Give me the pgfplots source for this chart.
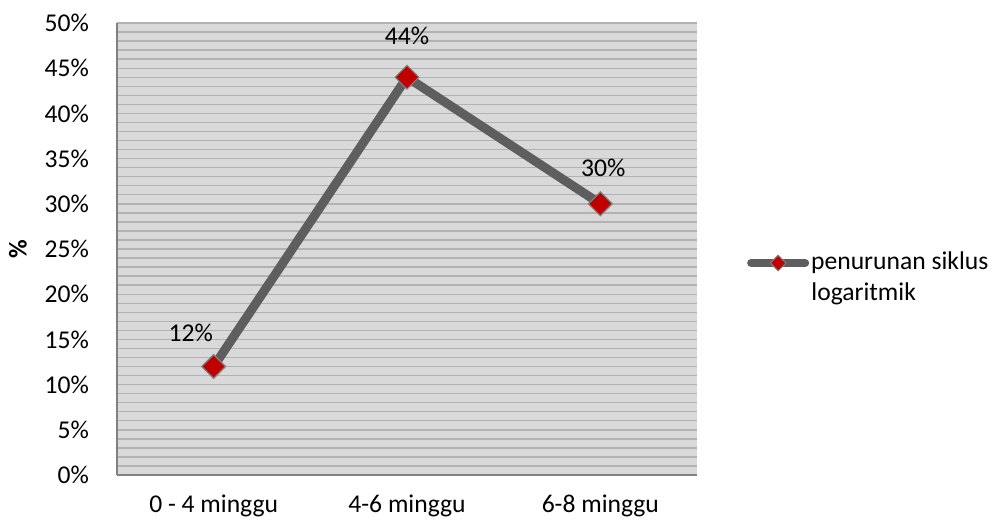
\documentclass[border=0pt]{standalone}
\usepackage{pgfplots}
\pgfplotsset{compat=1.18}
\usetikzlibrary{shapes.geometric}
\usepackage{fontspec}
\setmainfont{Carlito}
\definecolor{bgc}{HTML}{D9D9D9}
\definecolor{gridc}{HTML}{B2B2B2}
\definecolor{axc}{HTML}{808080}
\definecolor{linec}{HTML}{5E5E5E}
\definecolor{mkc}{HTML}{C00000}
\begin{document}
\fontsize{12.8pt}{15pt}\selectfont
\begin{tikzpicture}[x=1pt,y=1pt]
\path[use as bounding box] (0,0) rectangle (500.5,260.5);
\begin{axis}[
  at={(58.5pt,23pt)}, anchor=south west,
  width=290pt, height=226pt, scale only axis,
  xmin=-0.5, xmax=2.5, ymin=0, ymax=50,
  xtick={0,1,2},
  xticklabels={0 - 4 minggu, 4-6 minggu, 6-8 minggu},
  ytick={0,5,...,50},
  /pgf/number format/assume math mode=true,
  yticklabel={\pgfmathprintnumber{\tick}\%},
  minor y tick num=4,
  ymajorgrids, yminorgrids,
  major grid style={color=gridc, line width=0.7pt},
  minor grid style={color=gridc, line width=0.7pt},
  axis background/.style={fill=bgc},
  axis x line=bottom, axis y line=left,
  axis line style={-, color=axc, line width=1pt},
  tick style={draw=none},
  ticklabel style={font=\fontsize{12.8pt}{15pt}\selectfont},
  yticklabel style={xshift=-7.5pt},
  xticklabel style={yshift=-3.5pt},
  ylabel={\textbf{\%}},
  every axis y label/.style={at={(rel axis cs:0,0.5)}, anchor=center, rotate=90, yshift=49.5pt},
  legend style={at={(1.0858,0.469)}, anchor=west, draw=none, fill=none, inner sep=0pt,
    nodes={inner sep=1pt},
    font=\fontsize{12.8pt}{15pt}\selectfont},
  clip=false,
]
\addplot[color=linec, line width=4.5pt, mark=square*, mark size=4.2pt,
  mark options={rotate=45, fill=mkc, draw=axc, line width=0.6pt},
  legend image code/.code={\draw[color=linec, line width=4pt, line cap=round] (0pt,0pt) -- (27pt,0pt);
     \path (13.5pt,0pt) node[diamond, fill=mkc, draw=axc, line width=0.5pt, inner sep=0pt, minimum size=8pt] {};}]
  coordinates {(0,12) (1,44) (2,30)};
\addlegendentry{penurunan siklus}
\node[font=\fontsize{12.8pt}{15pt}\selectfont] at (axis cs:0,12) [xshift=-11.5pt, yshift=17pt] {12\%};
\node[font=\fontsize{12.8pt}{15pt}\selectfont] at (axis cs:1,44) [yshift=20.5pt] {44\%};
\node[font=\fontsize{12.8pt}{15pt}\selectfont] at (axis cs:2,30) [xshift=1.5pt, yshift=18pt] {30\%};
\end{axis}
\node[anchor=base west, inner sep=0pt] at (405.5,110.5) {logaritmik};
\end{tikzpicture}
\end{document}
